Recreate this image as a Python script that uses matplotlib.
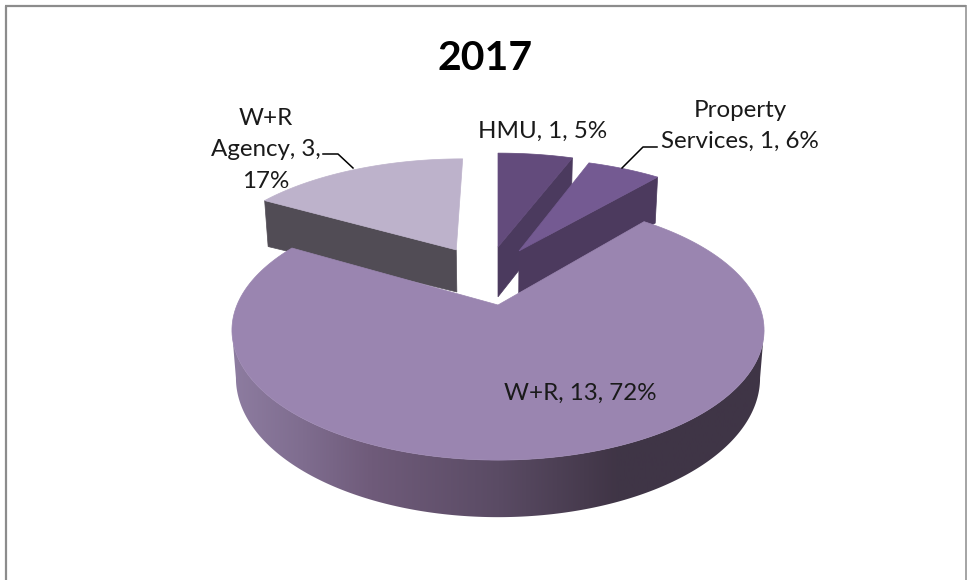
import numpy as np
import matplotlib
matplotlib.use("Agg")
import matplotlib.pyplot as plt
from matplotlib.colors import LinearSegmentedColormap
from matplotlib.patches import Polygon

plt.rcParams['font.family'] = ['Lato', 'DejaVu Sans']

# slices, clockwise from 12 o'clock
categories = ["HMU", "Property Services", "W+R", "W+R Agency"]
counts = [1, 1, 13, 3]
percents = [5, 6, 72, 17]
title = "2017"

# per slice style: colours, explosion in disc units, radius scale, which radial wall shows
top_colors = ['#634b7c', '#745a92', '#9a85b0', '#bdb2cb']
wall_colors = ['#4b3a5e', '#4c3a5e', None, '#514c55']
explode = [(0.0, 0.51), (0.088, 0.472), (0.0, 0.0), (-0.175, 0.482)]
radius = [1.08, 1.05, 1.0, 1.03]
wall_side = ['end', 'end', None, 'start']
apex_extra_drop = [8, 0, 0, 0]
draw_order = [0, 1, 3, 2]

# fake 3d camera, pixels
CX, CY = 498, 305
A, B = 261, 125
P = 0.194
DEPTH = 46
WALL_OUTER_DROP = 46
BOTTOM_SHRINK = 0.985


def project(X, Y, lower=False):
    s = 1 / (1 + P * Y)
    if lower:
        return CX + A * X * s * BOTTOM_SHRINK, CY - B * Y * s + DEPTH * s
    return CX + A * X * s, CY - B * Y * s


def slice_xy(i, theta, lower=False):
    ex, ey = explode[i]
    return project(ex + radius[i] * np.sin(theta), ey + radius[i] * np.cos(theta), lower)


fig = plt.figure(figsize=(9.68, 5.80), dpi=100, facecolor='white')
ax = fig.add_axes([0, 0, 1, 1])
ax.set_xlim(0, 968)
ax.set_ylim(580, 0)
ax.axis('off')

edges = np.cumsum([0] + counts) / sum(counts) * 2 * np.pi
# where the disc outline turns, used to close the rim on both sides
rim_start = np.arccos(-P)
rim_end = 2 * np.pi - rim_start

for i in draw_order:
    t0, t1 = edges[i], edges[i + 1]
    arc = np.linspace(t0, t1, 200)

    if wall_side[i]:
        t = t1 if wall_side[i] == 'end' else t0
        ex, ey = explode[i]
        ox, oy = project(ex, ey)
        cx, cy = slice_xy(i, t)
        lx, _ = slice_xy(i, t, True)
        bx, by = project(ex, ey, True)
        wall = [(ox, oy), (cx, cy), (lx, cy + WALL_OUTER_DROP), (bx, by + apex_extra_drop[i])]
        ax.add_patch(Polygon(wall, closed=True, fc=wall_colors[i], ec=wall_colors[i], lw=0.5, zorder=2))

    if categories[i] == "W+R":
        # outer rim with the left to right shading
        rim_arc = np.linspace(rim_start, rim_end, 300)
        ux, uy = slice_xy(i, rim_arc)
        lx, ly = slice_xy(i, rim_arc, True)
        rim = Polygon(np.column_stack([np.r_[ux, lx[::-1]], np.r_[uy, ly[::-1]]]),
                      closed=True, fc='none', ec='none', zorder=3)
        ax.add_patch(rim)
        cmap = LinearSegmentedColormap.from_list('rim', [
            (0.00, '#8d7ca0'), (0.13, '#7f6d8f'), (0.26, '#6f5b7a'),
            (0.50, '#5a4b64'), (0.72, '#403546'), (1.00, '#3f3546')])
        grad = np.linspace(0, 1, 256).reshape(1, -1)
        im = ax.imshow(grad, extent=(233, 765, 580, 0), cmap=cmap, aspect='auto', zorder=3)
        im.set_clip_path(rim)
        ax.set_xlim(0, 968)
        ax.set_ylim(580, 0)

    ax_, ay_ = slice_xy(i, arc)
    ox, oy = project(*explode[i])
    face = np.column_stack([np.r_[ox, ax_], np.r_[oy, ay_]])
    ax.add_patch(Polygon(face, closed=True, fc=top_colors[i], ec=top_colors[i], lw=0.5, zorder=4))

# frame of the chart area, it runs off the bottom of the crop
frame = '#8c8c8c'
ax.plot([6, 6], [580, 6], color=frame, lw=1.6, zorder=1, solid_capstyle='butt')
ax.plot([5, 966], [6, 6], color=frame, lw=1.6, zorder=1, solid_capstyle='butt')
ax.plot([966, 966], [5, 580], color=frame, lw=1.1, zorder=1, solid_capstyle='butt')

ax.text(485, 59, title, ha='center', va='center', fontsize=29.5, fontweight='bold', color='black', zorder=6)

# data labels
label_color = '#1a1a1a'
fs = 17.4
ls = 1.6
ax.text(543, 131, f"{categories[0]}, {counts[0]}, {percents[0]}%", ha='center', va='center',
        fontsize=fs, color=label_color, zorder=6)
ax.text(740, 126, f"Property\nServices, {counts[1]}, {percents[1]}%", ha='center', va='center',
        fontsize=fs, color=label_color, linespacing=ls, zorder=6)
ax.text(580, 393, f"{categories[2]}, {counts[2]}, {percents[2]}%", ha='center', va='center',
        fontsize=fs, color=label_color, zorder=6)
ax.text(266, 150, f"W+R\nAgency, {counts[3]},\n{percents[3]}%", ha='center', va='center',
        fontsize=fs, color=label_color, linespacing=ls, zorder=6)

# leader lines
ax.plot([323, 338, 353], [154, 154, 168], color='black', lw=1.1, zorder=5)
ax.plot([657, 643, 622], [147, 147, 168], color='black', lw=1.1, zorder=5)

fig.savefig("out.png", dpi=100, facecolor='white')
